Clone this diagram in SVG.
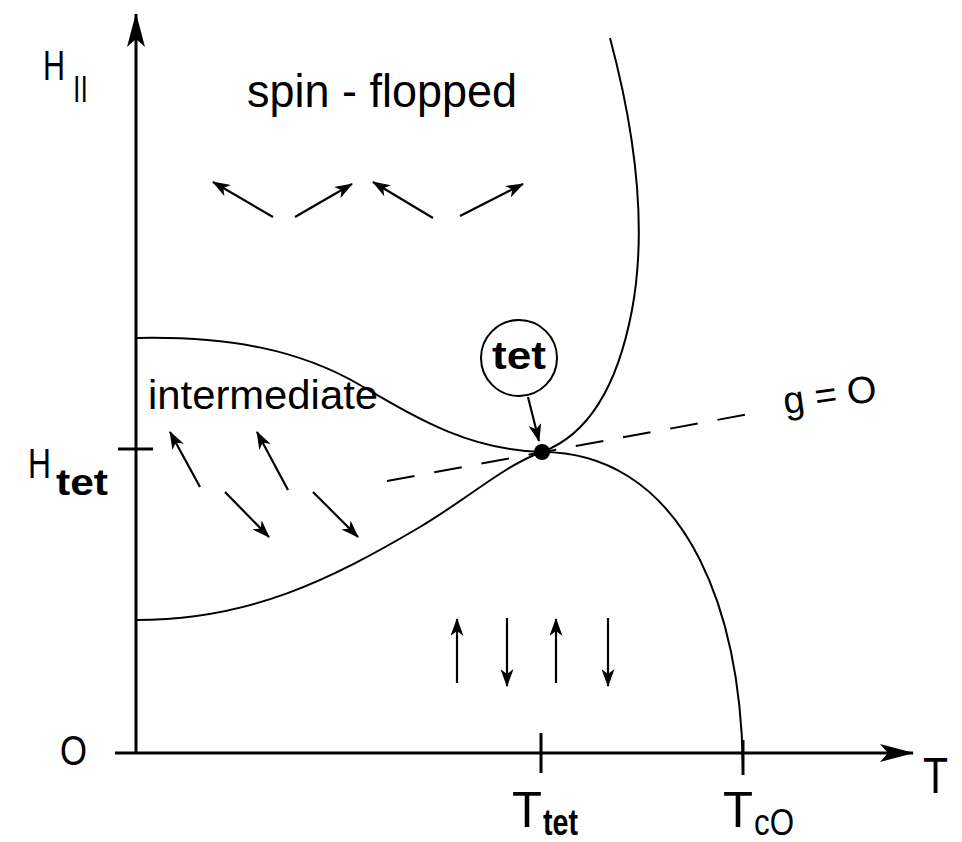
<svg xmlns="http://www.w3.org/2000/svg" width="962" height="842" viewBox="0 0 962 842">
<style>
text{font-family:"Liberation Sans",Arial,sans-serif;fill:#000}
.ax{stroke:#000;stroke-width:3;fill:none}
.cv{stroke:#000;stroke-width:2;fill:none}
.sp{stroke:#000;stroke-width:2.2;fill:none;marker-end:url(#ah)}
.b{font-weight:bold}
</style>
<defs>
<marker id="ah" viewBox="0 0 18 13" refX="17" refY="6.5" markerWidth="18" markerHeight="13" orient="auto" markerUnits="userSpaceOnUse">
<path d="M0,0 L18,6.5 L0,13 L5,6.5 z" fill="#000"/>
</marker>
<marker id="axh" viewBox="0 0 34 18" refX="33" refY="9" markerWidth="34" markerHeight="18" orient="auto" markerUnits="userSpaceOnUse">
<path d="M0,0 L34,9 L0,18 L8,9 z" fill="#000"/>
</marker>
</defs>
<rect width="962" height="842" fill="#fff"/>
<g id="axes">
<line class="ax" x1="136" y1="753" x2="136" y2="14" marker-end="url(#axh)"/>
<line class="ax" x1="115" y1="753" x2="913" y2="753" marker-end="url(#axh)"/>
<line class="ax" x1="118" y1="449" x2="153" y2="449"/>
<line class="ax" x1="541" y1="733" x2="541" y2="773"/>
<line class="ax" x1="743" y1="740" x2="743" y2="775"/>
</g>
<g id="curves">
<path class="cv" d="M136,338 C230,336 300,350 360,385 C420,420 470,450 542,452 C600,452 660,480 700,560 C730,620 742,690 743,770"/>
<path class="cv" d="M136,620 C250,620 330,580 420,527 C470,497 505,465 542,452 C580,438 615,400 632,310 C645,240 640,150 610,38"/>
<line class="cv" x1="387" y1="481" x2="760" y2="412" stroke-dasharray="28 20"/>
<circle cx="542" cy="452" r="8" fill="#000"/>
</g>
<g id="tet-label">
<circle cx="519" cy="358" r="38" fill="none" stroke="#000" stroke-width="2"/>
<text class="b" x="519" y="369" font-size="38" text-anchor="middle" textLength="54" lengthAdjust="spacingAndGlyphs">tet</text>
<line class="sp" x1="528" y1="397" x2="539" y2="441"/>
</g>
<g id="spin-flopped-arrows">
<line class="sp" x1="273" y1="217" x2="213" y2="182"/>
<line class="sp" x1="295" y1="217" x2="352" y2="184"/>
<line class="sp" x1="433" y1="218" x2="373" y2="182"/>
<line class="sp" x1="460" y1="216" x2="523" y2="184"/>
</g>
<g id="intermediate-arrows">
<line class="sp" x1="200" y1="487" x2="170" y2="432"/>
<line class="sp" x1="225" y1="492" x2="269" y2="537"/>
<line class="sp" x1="288" y1="490" x2="257" y2="432"/>
<line class="sp" x1="313" y1="492" x2="358" y2="537"/>
</g>
<g id="afm-arrows">
<line class="sp" x1="457" y1="683" x2="457" y2="619"/>
<line class="sp" x1="507" y1="618" x2="507" y2="686"/>
<line class="sp" x1="556" y1="683" x2="556" y2="619"/>
<line class="sp" x1="608" y1="618" x2="608" y2="686"/>
</g>
<g id="labels">
<text x="43" y="80" font-size="42" textLength="22" lengthAdjust="spacingAndGlyphs">H</text>
<text x="73" y="96" font-size="28" textLength="15" lengthAdjust="spacingAndGlyphs">||</text>
<text x="247" y="107" font-size="46" textLength="270" lengthAdjust="spacingAndGlyphs">spin - flopped</text>
<text x="148" y="409" font-size="40" textLength="230" lengthAdjust="spacingAndGlyphs">intermediate</text>
<text x="785" y="414" font-size="38" transform="rotate(-8 785 414)">g = O</text>
<text x="28" y="478" font-size="42" textLength="23" lengthAdjust="spacingAndGlyphs">H</text>
<text class="b" x="56" y="495" font-size="36" textLength="52" lengthAdjust="spacingAndGlyphs">tet</text>
<text x="60" y="765" font-size="43" textLength="27" lengthAdjust="spacingAndGlyphs">O</text>
<text x="923" y="793" font-size="50" textLength="25" lengthAdjust="spacingAndGlyphs">T</text>
<text x="512" y="827" font-size="50" textLength="30" lengthAdjust="spacingAndGlyphs">T</text>
<text class="b" x="543" y="835" font-size="36" textLength="35" lengthAdjust="spacingAndGlyphs">tet</text>
<text x="723" y="827" font-size="50" textLength="30" lengthAdjust="spacingAndGlyphs">T</text>
<text x="754" y="835" font-size="37" textLength="40" lengthAdjust="spacingAndGlyphs">cO</text>
</g>
</svg>
